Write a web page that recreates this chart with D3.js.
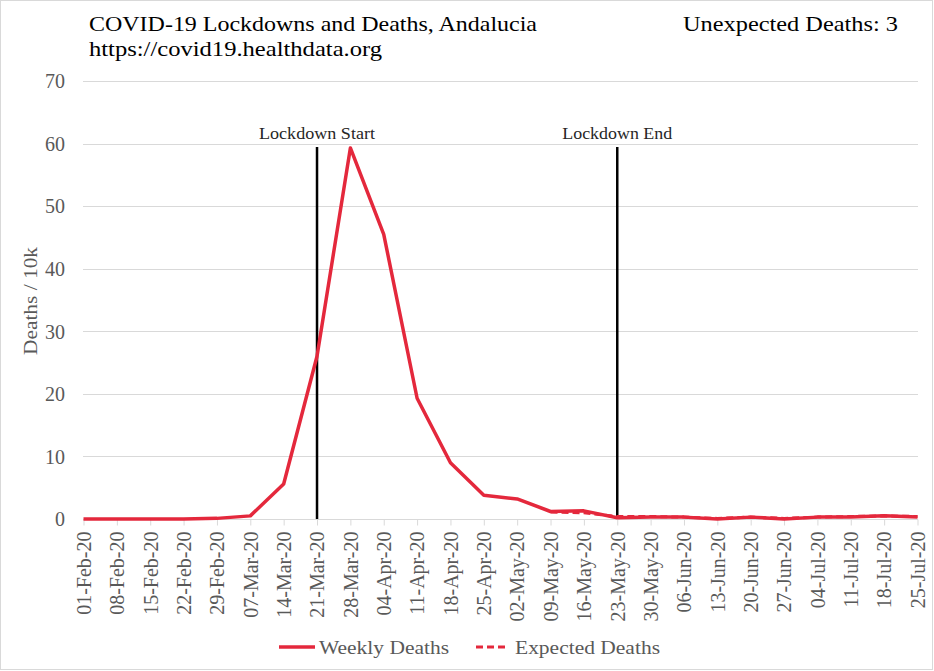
<!DOCTYPE html>
<html>
<head>
<meta charset="utf-8">
<script src="https://cdn.jsdelivr.net/npm/d3@7"></script>
<style>
  body { margin: 0; background: #fff; }
  text { font-family: "Liberation Serif", "DejaVu Serif", serif; }
</style>
</head>
<body>
<svg id="chart" width="934" height="671"></svg>
<script>
const weeks = ["01-Feb-20","08-Feb-20","15-Feb-20","22-Feb-20","29-Feb-20","07-Mar-20","14-Mar-20","21-Mar-20","28-Mar-20","04-Apr-20","11-Apr-20","18-Apr-20","25-Apr-20","02-May-20","09-May-20","16-May-20","23-May-20","30-May-20","06-Jun-20","13-Jun-20","20-Jun-20","27-Jun-20","04-Jul-20","11-Jul-20","18-Jul-20","25-Jul-20"];
const weeklyDeaths = [0,0,0,0,0.1,0.5,5.6,26.0,59.3,45.5,19.3,9.0,3.8,3.2,1.2,1.3,0.2,0.3,0.3,0.0,0.3,0.0,0.3,0.3,0.5,0.3];
const expectedDeaths = [null,null,null,null,null,null,null,null,null,null,null,null,null,null,1.1,1.0,0.4,0.4,0.3,0.1,0.3,0.1,0.3,0.4,0.5,0.4];
const yTicks = [0,10,20,30,40,50,60,70];
const lockdownStart = "21-Mar-20";
const lockdownEnd = "23-May-20";
const titleText = "COVID-19 Lockdowns and Deaths, Andalucia";
const subtitleText = "https://covid19.healthdata.org";
const unexpectedText = "Unexpected Deaths: 3";

const svg = d3.select("#chart");
const red = "#e4283c";
const grey = "#595959";

svg.append("rect").attr("x",0.5).attr("y",0.5).attr("width",932).attr("height",669)
  .attr("fill","#fff").attr("stroke","#d9d9d9");

const x = d3.scalePoint().domain(weeks).range([83.5, 917.5]);
const y = d3.scaleLinear().domain([0,70]).range([519, 81]);

// gridlines
svg.append("g").selectAll("line").data(yTicks.filter(d=>d>0)).join("line")
  .attr("x1",83).attr("x2",918)
  .attr("y1",d=>Math.round(y(d))+0.5).attr("y2",d=>Math.round(y(d))+0.5)
  .attr("stroke","#d9d9d9").attr("stroke-width",1);

// y axis labels
const yAxis = d3.axisLeft(y).tickValues(yTicks).tickSize(0).tickPadding(0);
const gy = svg.append("g").attr("transform","translate(65,0)").call(yAxis);
gy.select(".domain").remove();
gy.selectAll("text").attr("font-size",20).attr("fill",grey)
  .attr("font-family","Liberation Serif").attr("dy","0.34em");

// x axis
const xAxis = d3.axisBottom(x).tickSize(6).tickPadding(0);
const gx = svg.append("g").attr("transform","translate(0,519.5)").call(xAxis);
gx.select(".domain").attr("stroke","#d9d9d9").attr("d","M83,0H918");
gx.selectAll(".tick line").attr("stroke","#d9d9d9");
gx.selectAll("text")
  .attr("font-size",20).attr("fill",grey).attr("font-family","Liberation Serif")
  .attr("transform","rotate(-90)")
  .attr("text-anchor","end")
  .attr("x",-12).attr("y",0).attr("dy","0.34em");

// lockdown lines
[[lockdownStart,"Lockdown Start",116],[lockdownEnd,"Lockdown End",110]].forEach(([w,label,len])=>{
  svg.append("line").attr("x1",x(w)).attr("x2",x(w)).attr("y1",147).attr("y2",519)
    .attr("stroke","#000").attr("stroke-width",2.5);
  svg.append("text").attr("x",x(w)).attr("y",139).attr("text-anchor","middle")
    .attr("font-size",16.5).attr("fill","#262626")
    .attr("textLength",len).attr("lengthAdjust","spacingAndGlyphs").text(label);
});

// lines
const lineGen = d3.line().defined(d=>d[1]!==null).x(d=>x(d[0])).y(d=>y(d[1]));
svg.append("path").datum(weeks.map((w,i)=>[w,expectedDeaths[i]]))
  .attr("d",lineGen).attr("fill","none").attr("stroke",red)
  .attr("stroke-width",3).attr("stroke-dasharray","7,4");
svg.append("path").datum(weeks.map((w,i)=>[w,weeklyDeaths[i]]))
  .attr("d",lineGen).attr("fill","none").attr("stroke",red)
  .attr("stroke-width",3.5).attr("stroke-linejoin","round");

// y axis title
svg.append("text").attr("transform","translate(37,301) rotate(-90)")
  .attr("text-anchor","middle").attr("font-size",18.5).attr("fill",grey)
  .attr("textLength",108).attr("lengthAdjust","spacingAndGlyphs")
  .text("Deaths / 10k");

// titles
svg.append("text").attr("x",89).attr("y",31).attr("font-size",22).attr("fill","#000")
  .attr("textLength",448).attr("lengthAdjust","spacingAndGlyphs").text(titleText);
svg.append("text").attr("x",89).attr("y",56).attr("font-size",22).attr("fill","#000")
  .attr("textLength",293).attr("lengthAdjust","spacingAndGlyphs").text(subtitleText);
svg.append("text").attr("x",683).attr("y",31).attr("font-size",22).attr("fill","#000")
  .attr("textLength",215).attr("lengthAdjust","spacingAndGlyphs").text(unexpectedText);

// legend
const lg = svg.append("g");
lg.append("line").attr("x1",279).attr("x2",315).attr("y1",647).attr("y2",647)
  .attr("stroke",red).attr("stroke-width",3.5);
lg.append("text").attr("x",319).attr("y",654).attr("font-size",19.5).attr("fill",grey)
  .attr("textLength",130).attr("lengthAdjust","spacingAndGlyphs").text("Weekly Deaths");
lg.append("line").attr("x1",476).attr("x2",509).attr("y1",647).attr("y2",647)
  .attr("stroke",red).attr("stroke-width",3).attr("stroke-dasharray","7,4");
lg.append("text").attr("x",515).attr("y",654).attr("font-size",19.5).attr("fill",grey)
  .attr("textLength",145).attr("lengthAdjust","spacingAndGlyphs").text("Expected Deaths");
</script>
</body>
</html>
